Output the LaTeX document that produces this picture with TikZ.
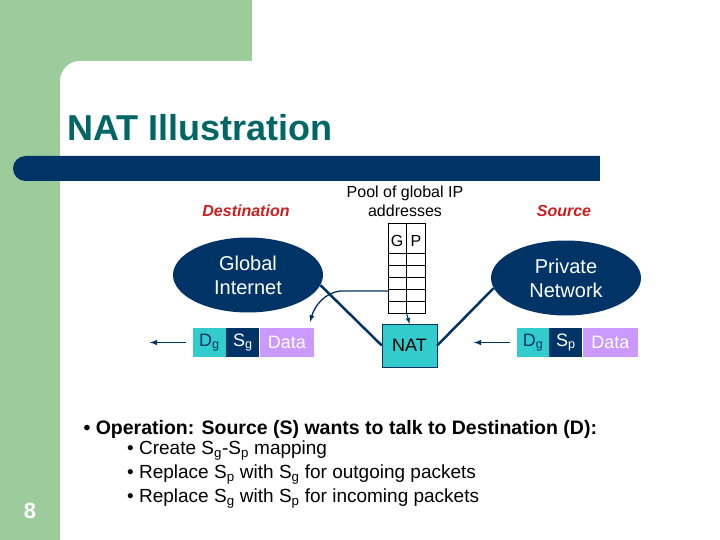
\documentclass[tikz,border=0pt]{standalone}
\usepackage{fontspec}
\setmainfont{Liberation Sans}
\usetikzlibrary{shapes,positioning,arrows}
\definecolor{navy}{RGB}{0,51,102}
\definecolor{sage}{RGB}{156,204,156}
\definecolor{teal}{RGB}{0,102,102}
\definecolor{cyanbox}{RGB}{51,204,204}
\definecolor{lilac}{RGB}{204,153,255}
\definecolor{redlab}{RGB}{204,30,30}

\begin{document}
\begin{tikzpicture}[x=1pt,y=-1pt,font=\fontsize{16}{18}\selectfont,
    cloud/.style={ellipse,fill=navy,text=white,minimum width=150,minimum height=75,
        align=center,font=\fontsize{20}{24}\selectfont},
    field/.style={minimum height=29,inner sep=0,font=\fontsize{18}{20}\selectfont},
    side/.style={text=redlab,font=\fontsize{16}{18}\selectfont\bfseries\itshape}]
\useasboundingbox (0,0) rectangle (720,540);
% Background
\fill[sage] (0,0) rectangle (720,540);
\fill[white,rounded corners=20] (60,61) rectangle (760,580);
\fill[white] (252,0) rectangle (720,70);
\fill[navy,rounded corners=12.5] (13,156) rectangle (630,181);
\fill[white] (600,150) rectangle (640,185);

% Title
\node[anchor=base west,text=teal,font=\fontsize{36}{40}\selectfont\bfseries]
    (title) at (64,141) {NAT Illustration};
\node[text=white,font=\fontsize{22}{24}\selectfont\bfseries] (page) at (30,511) {8};

% Labels
\node[side] (dest) at (246,211) {Destination};
\node[side] (src) at (564,211) {Source};
\node[align=center,font=\fontsize{16}{19}\selectfont] (poollab) at (405,201)
    {Pool of global IP\\addresses};

% Networks
\node[cloud] (internet) at (248,275) {Global\\Internet};
\node[cloud] (private) at (566,278) {Private\\Network};

% Pool table
\node[draw,thin,minimum width=37,minimum height=90,inner sep=0] (pool) at (406.5,268) {};
\draw[thin] (406,223) -- (406,313);
\foreach \y in {253,265,277,289,301}
    \draw[thin] (388,\y) -- (425,\y);
\node (g) at (397,241) {G};
\node (p) at (416,241) {P};

% NAT block
\node[draw=navy,fill=cyanbox,minimum width=55,minimum height=43,
    font=\fontsize{18}{20}\selectfont] (nat) at (409.5,345.5) {NAT};

% Packets
\node[field,fill=cyanbox,text=navy,minimum width=33] (dg1) at (209.5,342.5) {D\textsubscript{g}};
\node[field,fill=navy,text=white,minimum width=33,right=0pt of dg1] (sg1) {S\textsubscript{g}};
\node[field,fill=lilac,text=white,minimum width=54,right=0pt of sg1] (data1) {Data};
\node[field,fill=cyanbox,text=navy,minimum width=32] (dg2) at (533,342.5) {D\textsubscript{g}};
\node[field,fill=navy,text=white,minimum width=33,right=0pt of dg2] (sp2) {S\textsubscript{p}};
\node[field,fill=lilac,text=white,minimum width=55,right=0pt of sp2] (data2) {Data};
\coordinate[left=7pt of dg1] (out1);
\coordinate[left=43pt of dg1] (out2);
\coordinate[left=7pt of dg2] (in1);
\coordinate[left=43pt of dg2] (in2);

% Arrows
\draw[navy,line width=2.5pt] (internet.-8) -- (nat.west);
\draw[navy,line width=2.5pt] (private.188) -- (nat.east);
\draw[-latex,navy,line width=1pt] (pool.south) -- (nat.north);
\draw[-latex,navy,line width=1.3pt] ([yshift=-23pt]pool.west) -- (340,291)
    .. controls (325,293) and (315,305) .. (310,322);
\draw[-latex,navy,line width=1.5pt] (out1) -- (out2);
\draw[-latex,navy,line width=1.5pt] (in1) -- (in2);

% Bullets
\node[anchor=west,font=\fontsize{19.5}{22}\selectfont\bfseries] (op) at (80,429)
    {\textbullet\ Operation: Source (S) wants to talk to Destination (D):};
\node[anchor=north west,align=left,inner sep=0,font=\fontsize{19}{24}\selectfont]
    (steps) at (127,441)
    {\textbullet\ Create S\textsubscript{g}-S\textsubscript{p} mapping\\
     \textbullet\ Replace S\textsubscript{p} with S\textsubscript{g} for outgoing packets\\
     \textbullet\ Replace S\textsubscript{g} with S\textsubscript{p} for incoming packets};
\end{tikzpicture}
\end{document}
